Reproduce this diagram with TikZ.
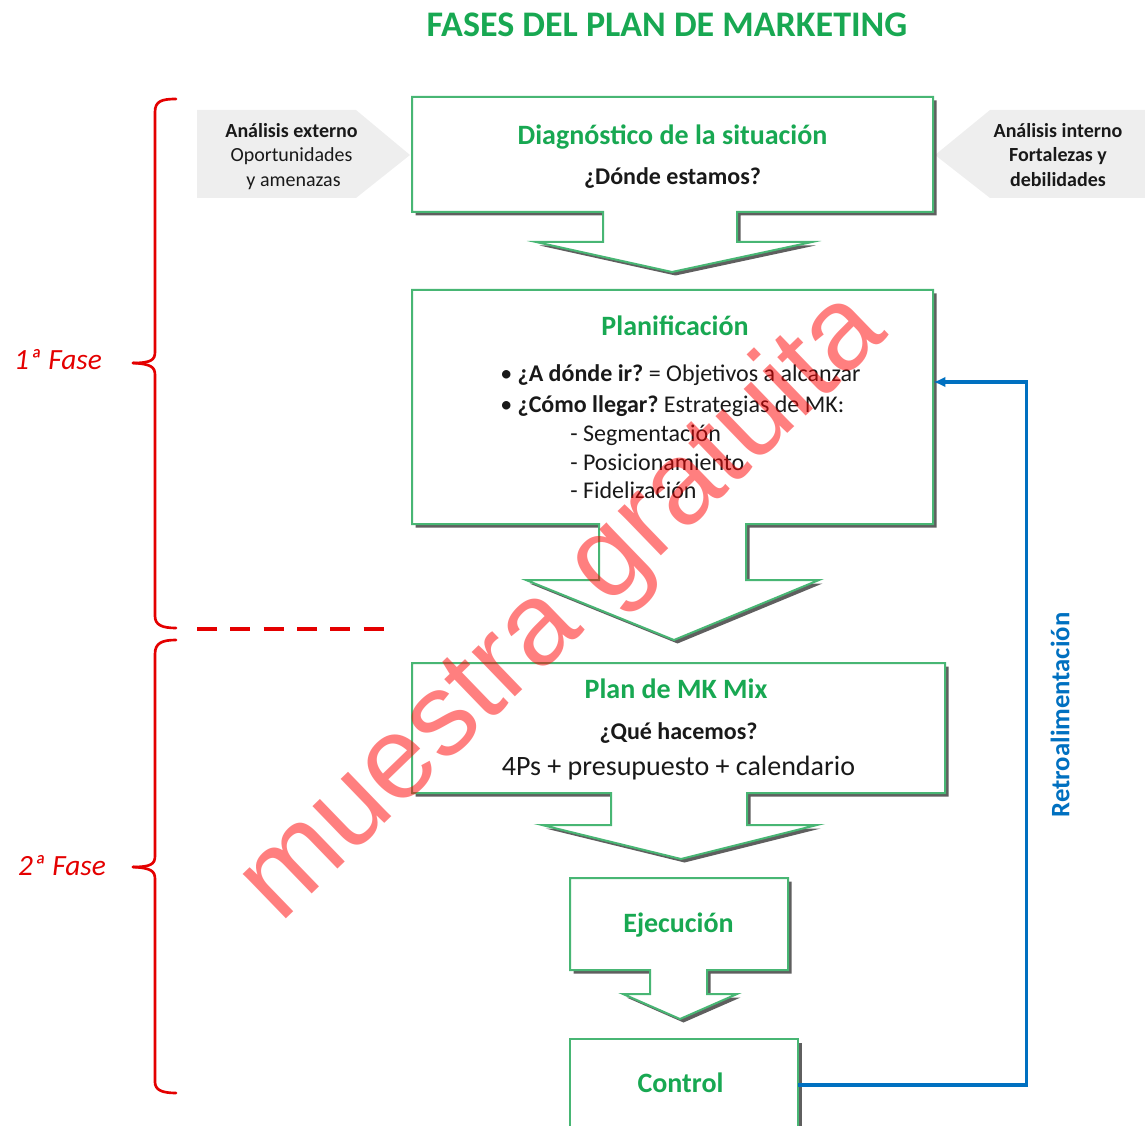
\documentclass[tikz,border=0pt]{standalone}
\usepackage{fontspec}
\setmainfont{Carlito}
\newfontfamily\wmfont{Liberation Sans}
\usetikzlibrary{arrows.meta,fit}
\definecolor{tgreen}{RGB}{24,168,82}
\definecolor{bgreen}{RGB}{72,182,116}
\definecolor{shgray}{RGB}{95,95,95}
\definecolor{lgray}{RGB}{238,238,238}
\definecolor{fblue}{RGB}{0,112,192}
\definecolor{fred}{RGB}{228,0,0}
\definecolor{txt}{RGB}{25,25,25}
\newcommand\callout[1]{\path[cshadow] #1; \path[cbox] #1;}
\frenchspacing
\begin{document}
\begin{tikzpicture}[x=0.75pt,y=-0.75pt,
  cshadow/.style={fill=shgray, shift={(3.5,3.5)}},
  cbox/.style={fill=white, draw=bgreen, line width=1.5pt},
  area/.style={inner sep=0pt, draw=none},
  boxtitle/.style={font=\fontsize{21}{25}\selectfont\bfseries, text=tgreen, anchor=base, inner sep=0pt},
  question/.style={font=\fontsize{18}{22}\selectfont\bfseries, text=txt, anchor=base, inner sep=0pt},
  body/.style={font=\fontsize{18}{22}\selectfont, text=txt, anchor=base west, inner sep=0pt},
  side/.style={font=\fontsize{15}{18}\selectfont, text=txt, anchor=base, inner sep=0pt},
  sidebold/.style={side, font=\fontsize{15}{18}\selectfont\bfseries},
  sidearrow/.style={fill=lgray, draw=none},
  brace/.style={draw=fred, line width=2pt, line cap=round},
  fase/.style={font=\fontsize{22}{26}\selectfont\itshape, text=fred, anchor=base, inner sep=0pt},
  feedback/.style={draw=fblue, line width=2.6pt, -{Latex[length=9pt,width=8pt]}},
]
\useasboundingbox (0,0) rectangle (1145,1126);
\clip (0,0) rectangle (1145,1126);

% title
\node[font=\fontsize{27}{32}\selectfont\bfseries, text=tgreen, anchor=base, inner sep=0pt] (title) at (667,37) {FASES DEL PLAN DE MARKETING};

% side arrows
\path[sidearrow] (197,110) -- (356,110) -- (410,155) -- (356,198) -- (197,198) -- cycle;
\path[sidearrow] (935,155) -- (990,110) -- (1145,110) -- (1145,198) -- (990,198) -- cycle;
\node[sidebold] (extA) at (291.5,137.5) {Análisis externo};
\node[side] (extB) at (291.5,162) {Oportunidades};
\node[side] (extC) at (293.5,186.5) {y amenazas};
\node[sidebold] (intA) at (1058,137.5) {Análisis interno};
\node[sidebold] (intB) at (1058,162) {Fortalezas y};
\node[sidebold] (intC) at (1058,186.5) {debilidades};

% callout 1
\callout{(412,97) -- (933,97) -- (933,212) -- (737,212) -- (737,242) -- (812,242) -- (672,272) -- (536,242) -- (603,242) -- (603,212) -- (412,212) -- cycle}
\node[area, fit={(412,97) (933,212)}] (diag) {};
\node[boxtitle] (diagT) at (672.5,145) {Diagnóstico de la situación};
\node[question] (diagQ) at (672.5,185) {¿Dónde estamos?};

% callout 2
\callout{(412,290) -- (933,290) -- (933,524) -- (746,524) -- (746,580) -- (819,580) -- (674,640) -- (526,580) -- (599,580) -- (599,524) -- (412,524) -- cycle}
\node[area, fit={(412,290) (933,524)}] (plan) {};
\node[boxtitle] (planT) at (675,336) {Planificación};
\node[body] (planL1) at (500,382) {• \textbf{¿A dónde ir?} = Objetivos a alcanzar};
\node[body] (planL2) at (500,412) {• \textbf{¿Cómo llegar?} Estrategias de MK:};
\node[body] (planL3) at (570,441) {- Segmentación};
\node[body] (planL4) at (570,470) {- Posicionamiento};
\node[body] (planL5) at (570,498) {- Fidelización};

% callout 3
\callout{(412,663) -- (945,663) -- (945,793) -- (747,793) -- (747,825) -- (817,825) -- (681,859) -- (542,825) -- (611,825) -- (611,793) -- (412,793) -- cycle}
\node[area, fit={(412,663) (945,793)}] (mix) {};
\node[boxtitle] (mixT) at (676,698) {Plan de MK Mix};
\node[question] (mixQ) at (678.5,739) {¿Qué hacemos?};
\node[boxtitle, font=\fontsize{21}{25}\selectfont, text=txt] (mixB) at (678.5,775) {4Ps + presupuesto + calendario};

% callout 4
\callout{(570,878) -- (788,878) -- (788,970) -- (707,970) -- (707,994) -- (737,994) -- (680,1019) -- (623,994) -- (650,994) -- (650,970) -- (570,970) -- cycle}
\node[area, fit={(570,878) (788,970)}] (ejec) {};
\node[boxtitle] (ejecT) at (678.5,932) {Ejecución};

% control box
\callout{(570,1039) -- (798,1039) -- (798,1135) -- (570,1135) -- cycle}
\node[area, fit={(570,1039) (798,1131)}] (control) {};
\node[boxtitle] (controlT) at (680.5,1092) {Control};

% feedback
\draw[feedback] (control.east) -- ++(228,0) |- ([yshift=18.75pt]plan.east);
\node[rotate=90, font=\fontsize{20}{24}\selectfont\bfseries, text=fblue, inner sep=0pt] (retro) at (1060,715) {Retroalimentación};

% braces
\draw[brace] (176,99) .. controls (162,99) and (155,101) .. (155,112) -- (155,352) .. controls (155,360) and (151,363) .. (133,363);
\draw[brace] (133,363) .. controls (151,364) and (155,367) .. (155,375) -- (155,616) .. controls (155,625) and (162,628) .. (176,628);
\draw[brace] (176,640) .. controls (162,640) and (155,643) .. (155,654) -- (155,856) .. controls (155,864) and (151,867) .. (133,867);
\draw[brace] (133,867) .. controls (151,868) and (155,871) .. (155,879) -- (155,1082) .. controls (155,1090) and (162,1093) .. (176,1093);
\draw[fred, line width=3pt, dash pattern=on 15pt off 10pt] (197,629) -- (385,629);
\node[fase] (fase1) at (58,370) {1ª Fase};
\node[fase] (fase2) at (62,875) {2ª Fase};

% watermark
\node[rotate=44, text=red, opacity=0.5, font=\wmfont\fontsize{88}{94}\selectfont, inner sep=0pt] (wm) at (564,608) {muestra gratuita};
\end{tikzpicture}
\end{document}
